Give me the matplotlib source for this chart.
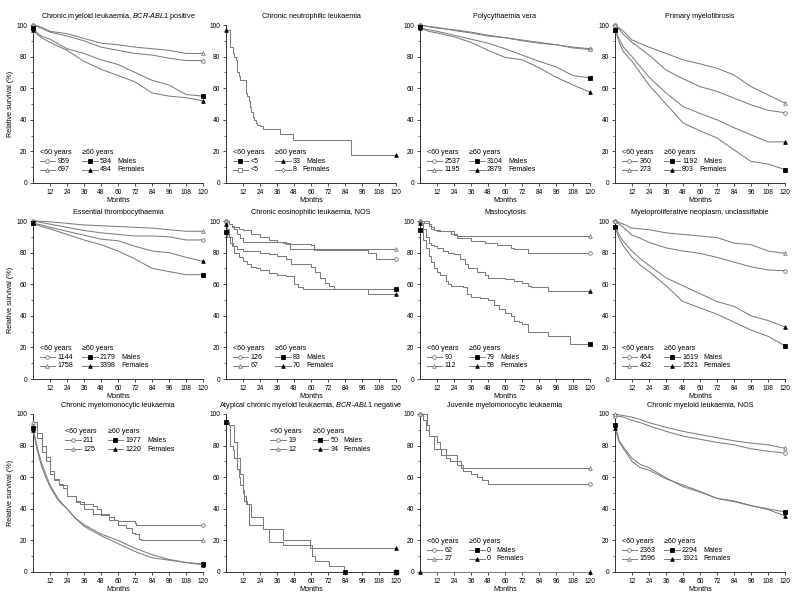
import matplotlib
matplotlib.use('Agg')
import matplotlib.pyplot as plt
from matplotlib.lines import Line2D

plt.rcParams['font.family'] = ['Liberation Sans', 'DejaVu Sans']
plt.rcParams['mathtext.fontset'] = 'custom'
plt.rcParams['mathtext.rm'] = 'Liberation Sans'
plt.rcParams['mathtext.it'] = 'Liberation Sans:italic'

# ---------------- data ----------------
GRID_A = [0, 3, 6, 12, 24, 36, 48, 60, 72, 84, 96, 108, 120]
GRID_B = [0, 3, 6, 12, 18, 24, 36, 48, 60, 72, 84, 96, 108, 120]

titles = [
    r"Chronic myeloid leukaemia, $\mathit{BCR}$-$\mathit{ABL1}$ positive",
    "Chronic neutrophilic leukaemia",
    "Polycythaemia vera",
    "Primary myelofibrosis",
    "Essential thrombocythaemia",
    "Chronic eosinophilic leukaemia, NOS",
    "Mastocytosis",
    "Myeloproliferative neoplasm, unclassifiable",
    "Chronic myelomonocytic leukaemia",
    r"Atypical chronic myeloid leukaemia, $\mathit{BCR}$-$\mathit{ABL1}$ negative",
    "Juvenile myelomonocytic leukaemia",
    "Chronic myeloid leukaemia, NOS",
]

# legend counts: (<60 males, <60 females, >=60 males, >=60 females)
counts = [
    ("959", "697", "534", "484"),
    ("<5", "<5", "33", "8"),
    ("2537", "1195", "3104", "2879"),
    ("360", "273", "1192", "803"),
    ("1144", "1758", "2179", "3398"),
    ("126", "67", "83", "70"),
    ("90", "112", "79", "58"),
    ("464", "432", "1619", "1521"),
    ("211", "125", "1977", "1220"),
    ("19", "12", "50", "34"),
    ("62", "27", "0", "0"),
    ("2363", "1596", "2294", "1921"),
]

# Panel 1: CML BCR-ABL1 positive (GRID_A)
p1_u60m = [100, 99, 98, 95.5, 93, 90, 86, 84, 82, 81, 79, 77.5, 77.5]
p1_u60f = [100, 99.5, 98.5, 96, 94.5, 91.5, 88.5, 87.5, 86, 85, 84, 82, 82]
p1_o60m = [98, 95, 93, 91, 85, 82, 78, 75, 70, 65, 62, 56, 55]
p1_o60f = [97, 94, 92, 89, 84, 77, 72, 68, 64, 57, 55, 54, 52]

# Panel 2: CNL (single step curve)
p2_t = [0, 1, 3, 5, 6, 7, 8, 9, 10, 13, 14, 15, 16, 17, 18, 19, 20, 21, 22, 24, 26, 38, 47, 88, 120]
p2_v = [97, 97, 86, 82, 80, 78, 70, 68, 65, 65, 57, 55, 52, 48, 45, 42, 40, 38, 37, 36, 34, 31, 27, 17.5, 17.5]

# Panel 3: PV (GRID_A)
p3_u60m = [100, 99.5, 99, 98, 97, 95.5, 93.5, 92, 90.5, 89, 87.5, 86, 85]
p3_u60f = [100, 99.5, 99, 98.5, 96.5, 95, 93, 92, 90, 88.5, 87.5, 85.5, 84.5]
p3_o60m = [98.5, 97.5, 97, 96, 93.5, 91, 88.5, 85, 81, 77, 73.5, 68, 66.5]
p3_o60f = [98, 97, 96, 95, 92.5, 89, 84, 79.5, 78, 73, 67, 62, 57.5]

# Panel 4: PMF (GRID_A)
p4_u60m = [100, 97, 94, 89, 81, 71.5, 66, 61, 58, 53.7, 49.5, 46, 44.5]
p4_u60f = [100, 98, 96, 90.5, 86, 82, 78, 75.4, 72.6, 68.4, 61, 55.8, 50.5]
p4_o60m = [97, 89, 83, 77, 62, 50, 38, 33, 28.5, 21, 13.7, 12, 8.5]
p4_o60f = [97, 91, 86, 80, 67, 57, 48.4, 44, 40, 35, 30.5, 26, 26]

# Panel 5: ET (GRID_A)
p5_u60m = [100, 99.5, 99, 98, 96, 94, 92.5, 91.5, 90.5, 90.5, 90, 88, 88]
p5_u60f = [100, 100, 99.8, 99.5, 98.5, 97.5, 97, 96.5, 96, 95.5, 94.5, 93.5, 93.5]
p5_o60m = [98.5, 97.5, 96.5, 95, 91.5, 88, 85, 81, 76, 70, 68, 66, 66]
p5_o60f = [99, 98, 97.5, 96, 93.5, 91, 88.5, 87.5, 84, 81, 80, 77, 74.5]

# Panel 6: CEL NOS (step curves)
p6_u60m_t = [0, 2, 4, 6, 9, 12, 18, 24, 30, 36, 42, 60, 62, 100, 106, 120]
p6_u60m_v = [100, 98, 97, 96, 95, 94, 92, 90, 88, 87, 85.5, 85, 81.5, 79.5, 76, 76]
p6_u60f_t = [0, 2, 4, 6, 8, 10, 12, 36, 40, 45, 120]
p6_u60f_v = [100, 98, 96, 95, 92, 89, 87, 87, 86, 82, 82]
p6_o60m_t = [0, 1, 3, 5, 8, 12, 24, 30, 36, 42, 46, 60, 63, 66, 70, 73, 76, 120]
p6_o60m_v = [93, 90, 86, 84, 82, 81, 80, 79, 78, 76, 73, 71, 68, 64, 61, 59, 57, 57]
p6_o60f_t = [0, 1, 2, 4, 6, 9, 12, 15, 18, 21, 24, 30, 36, 42, 48, 51, 54, 100, 120]
p6_o60f_v = [98, 95, 90, 84, 80, 77, 75, 73, 71, 70, 69, 67, 66, 65, 60, 58, 57, 54, 54]

# Panel 7: Mastocytosis (step curves)
p7_u60m_t = [0, 3, 6, 8, 10, 14, 24, 26, 36, 46, 54, 64, 66, 76, 120]
p7_u60m_v = [100, 99, 97, 95, 94, 93.5, 91, 89, 87.5, 86, 85, 83, 82.5, 80, 80]
p7_u60f_t = [0, 4, 6, 8, 10, 12, 20, 22, 26, 120]
p7_u60f_v = [100, 100, 98, 96, 94, 93.5, 93.5, 92, 90.5, 90.5]
p7_o60m_t = [0, 2, 4, 6, 8, 10, 12, 14, 18, 20, 22, 30, 33, 36, 42, 48, 52, 56, 60, 64, 66, 70, 72, 76, 86, 90, 96, 106, 120]
p7_o60m_v = [94, 88, 83, 78, 74, 70, 68, 66, 62, 60, 59, 58, 54, 52, 51, 50, 47, 44, 42, 40, 37, 36, 35, 30, 30, 27, 27, 22, 22]
p7_o60f_t = [0, 2, 4, 6, 8, 10, 12, 16, 20, 24, 28, 32, 34, 40, 46, 48, 60, 66, 72, 76, 78, 88, 90, 120]
p7_o60f_v = [99, 95, 90, 86, 85, 84, 83, 81, 80, 79, 76, 73, 70, 68, 66, 64, 63.5, 62, 61, 59, 58.5, 58.5, 55.5, 55.5]

# Panel 8: MPN-U (GRID_B)
p8_u60m = [100, 98, 96, 91, 89, 86.5, 83, 81, 79.5, 77, 74, 71, 69, 68.5]
p8_u60f = [100, 99, 98, 95.5, 95, 94.5, 92.5, 91.5, 90.5, 89.5, 86, 85, 81, 79.5]
p8_o60m = [96, 89, 84, 77, 72, 68, 59, 49, 45, 41, 36, 31, 27, 21]
p8_o60f = [97, 91, 87, 81, 76, 72, 64, 59, 54, 49, 46, 40, 37, 33]

# Panel 9: CMML
p9_u60m_t = [0, 3, 6, 9, 12, 15, 18, 21, 24, 30, 33, 36, 42, 45, 48, 54, 57, 60, 72, 73, 120]
p9_u60m_v = [92, 85, 76, 70, 62, 59, 56, 53, 48, 45, 43, 43, 42, 40, 37, 35, 33, 32, 31, 30, 30]
p9_u60f_t = [0, 3, 6, 9, 12, 15, 18, 24, 30, 36, 42, 48, 54, 60, 66, 70, 72, 75, 76, 120]
p9_u60f_v = [95, 88, 80, 73, 64, 58, 55, 48, 44, 40, 37, 36, 33, 30, 28, 25, 24, 21, 20.5, 20.5]
p9_t = [0, 3, 6, 9, 12, 18, 24, 30, 36, 48, 60, 72, 84, 96, 108, 120]
p9_o60m = [91, 79, 69, 62, 55, 46, 40, 34, 29, 23, 18, 13, 9, 7.5, 6, 5]
p9_o60f = [90, 77, 67, 60, 54, 45, 40, 34, 30, 24, 20, 15, 11, 8, 6, 4.5]

# Panel 10: aCML (step curves)
p10_o60m_t = [0, 2, 3, 5, 6, 8, 9, 10, 12, 13, 15, 16, 24, 26, 30, 40, 58, 61, 63, 72, 73, 83, 84]
p10_o60m_v = [95, 93, 80, 77, 72, 65, 60, 55, 52, 45, 43, 30, 30, 27, 19, 17, 17, 10, 7, 7, 4, 0, 0]
p10_o60f_t = [0, 2, 5, 6, 8, 10, 12, 13, 14, 17, 18, 24, 26, 38, 40, 58, 59, 120]
p10_o60f_v = [95, 93, 93, 82, 72, 62, 50, 48, 43, 43, 35, 35, 27, 27, 20, 20, 15.5, 15.5]
p10_end_t = [120]
p10_end_v = [0]

# Panel 11: JMML (step curves)
p11_u60m_t = [0, 2, 4, 6, 10, 12, 14, 18, 24, 26, 30, 36, 40, 44, 48, 120]
p11_u60m_v = [100, 96, 90, 86, 86, 82, 78, 74, 74, 68, 64, 62, 60, 58, 56, 56]
p11_u60f_t = [0, 4, 5, 6, 9, 10, 12, 15, 18, 21, 28, 29, 120]
p11_u60f_v = [100, 100, 93, 86, 86, 78, 78, 74, 72, 70, 70, 66, 66]
p11_o60_t = [0, 120]
p11_o60_v = [0, 0]

# Panel 12: CML NOS (GRID_B)
p12_u60m = [99, 98.5, 98, 96, 94.5, 92.5, 89, 86, 84, 82, 80.5, 78, 76.4, 75.3]
p12_u60f = [100, 99.5, 99, 98, 96.5, 94.5, 91.6, 89, 87, 85, 83, 81.6, 80.5, 78.3]
p12_o60m = [93, 83, 79, 72, 68, 66, 59.6, 54, 50.6, 46.6, 45, 42, 40, 38]
p12_o60f = [91, 82, 78, 70, 66, 64.5, 59, 55, 51, 46.6, 44.5, 42, 39.5, 35.5]

# series per panel: (t, v, kind, step)
panels = [
    [(GRID_A, p1_u60m, 'u60m', False), (GRID_A, p1_u60f, 'u60f', False),
     (GRID_A, p1_o60m, 'o60m', False), (GRID_A, p1_o60f, 'o60f', False)],
    [(p2_t, p2_v, 'o60f', True)],
    [(GRID_A, p3_u60m, 'u60m', False), (GRID_A, p3_u60f, 'u60f', False),
     (GRID_A, p3_o60m, 'o60m', False), (GRID_A, p3_o60f, 'o60f', False)],
    [(GRID_A, p4_u60m, 'u60m', False), (GRID_A, p4_u60f, 'u60f', False),
     (GRID_A, p4_o60m, 'o60m', False), (GRID_A, p4_o60f, 'o60f', False)],
    [(GRID_A, p5_u60m, 'u60m', False), (GRID_A, p5_u60f, 'u60f', False),
     (GRID_A, p5_o60m, 'o60m', False), (GRID_A, p5_o60f, 'o60f', False)],
    [(p6_u60m_t, p6_u60m_v, 'u60m', True), (p6_u60f_t, p6_u60f_v, 'u60f', True),
     (p6_o60m_t, p6_o60m_v, 'o60m', True), (p6_o60f_t, p6_o60f_v, 'o60f', True)],
    [(p7_u60m_t, p7_u60m_v, 'u60m', True), (p7_u60f_t, p7_u60f_v, 'u60f', True),
     (p7_o60m_t, p7_o60m_v, 'o60m', True), (p7_o60f_t, p7_o60f_v, 'o60f', True)],
    [(GRID_B, p8_u60m, 'u60m', False), (GRID_B, p8_u60f, 'u60f', False),
     (GRID_B, p8_o60m, 'o60m', False), (GRID_B, p8_o60f, 'o60f', False)],
    [(p9_u60m_t, p9_u60m_v, 'u60m', True), (p9_u60f_t, p9_u60f_v, 'u60f', True),
     (p9_t, p9_o60m, 'o60m', False), (p9_t, p9_o60f, 'o60f', False)],
    [(p10_o60m_t, p10_o60m_v, 'o60m', True), (p10_o60f_t, p10_o60f_v, 'o60f', True)],
    [(p11_u60m_t, p11_u60m_v, 'u60m', True), (p11_u60f_t, p11_u60f_v, 'u60f', True),
     (p11_o60_t, p11_o60_v, 'o60f', True)],
    [(GRID_B, p12_u60m, 'u60m', False), (GRID_B, p12_u60f, 'u60f', False),
     (GRID_B, p12_o60m, 'o60m', False), (GRID_B, p12_o60f, 'o60f', False)],
]

# ---------------- styling ----------------
LINE_COL = '#7d7d7d'
STYLES = {
    'u60m': dict(marker='o', mfc='white', mec='#777777'),
    'u60f': dict(marker='^', mfc='white', mec='#777777'),
    'o60m': dict(marker='s', mfc='black', mec='black'),
    'o60f': dict(marker='^', mfc='black', mec='black'),
    # special legend symbols used in the CNL panel
    'cnl_u60m': dict(marker='s', mfc='black', mec='black'),
    'cnl_o60m': dict(marker='^', mfc='black', mec='black'),
    'cnl_u60f': dict(marker='s', mfc='white', mec='#777777'),
    'cnl_o60f': dict(marker='D', mfc='white', mec='#777777'),
}
MS = 2.6
FS = 5.1       # legend text
FS_T = 5.2     # titles / axis labels
FS_K = 4.8     # tick labels

legend_pos = {8: (0.19, 0.89), 9: (0.26, 0.89)}

LEFTS = [33, 226, 420, 615]
TOPS = [25, 221, 414]
W, H = 170, 158

fig = plt.figure(figsize=(8, 6), dpi=100)


def add_legend(ax, nums, x0, y0, prefix=''):
    dx2 = 0.25
    dy = 0.056
    lw = 0.09
    ax.text(x0, y0, "<60 years", transform=ax.transAxes, fontsize=FS, va='center', ha='left')
    ax.text(x0 + dx2, y0, "\u226560 years", transform=ax.transAxes, fontsize=FS, va='center', ha='left')
    rows = [((prefix + 'u60m', nums[0]), (prefix + 'o60m', nums[2]), 'Males'),
            ((prefix + 'u60f', nums[1]), (prefix + 'o60f', nums[3]), 'Females')]
    for i, (c1, c2, lab) in enumerate(rows):
        y = y0 - (i + 1) * dy
        for (kind, num), xs in ((c1, x0), (c2, x0 + dx2)):
            st = STYLES[kind]
            ax.add_line(Line2D([xs, xs + lw], [y, y], transform=ax.transAxes, color=LINE_COL,
                               lw=0.7, clip_on=False))
            ms = MS * 0.8 if st['marker'] == 'D' else MS
            ax.add_line(Line2D([xs + lw / 2], [y], transform=ax.transAxes, marker=st['marker'],
                               mfc=st['mfc'], mec=st['mec'], ms=ms, mew=0.6, ls='none', clip_on=False))
            ax.text(xs + lw + 0.015, y, num, transform=ax.transAxes, fontsize=FS, va='center', ha='left')
        xl = x0 + dx2 + lw + 0.015 + 0.024 * len(c2[1]) + 0.03
        ax.text(xl, y, lab, transform=ax.transAxes, fontsize=FS, va='center', ha='left')


for idx in range(12):
    r, c = divmod(idx, 4)
    ax = fig.add_axes([LEFTS[c] / 800, 1 - (TOPS[r] + H) / 600, W / 800, H / 600])
    for t, v, kind, step in panels[idx]:
        st = STYLES[kind]
        ax.plot(t, v, color=LINE_COL, lw=0.75, drawstyle='steps-post' if step else 'default',
                marker=st['marker'], mfc=st['mfc'], mec=st['mec'], ms=MS, mew=0.6,
                markevery=[0, len(t) - 1], clip_on=False, zorder=3)
    if idx == 9:
        ax.plot(p10_end_t, p10_end_v, ls='none', marker='s', mfc='black', mec='black', ms=MS,
                clip_on=False, zorder=4)
    ax.set_xlim(0, 120)
    ax.set_ylim(0, 100)
    ax.set_xticks(range(12, 121, 12))
    ax.set_yticks(range(0, 101, 20))
    ax.set_yticks(range(10, 100, 20), minor=True)
    for s in ('top', 'right'):
        ax.spines[s].set_visible(False)
    for s in ('left', 'bottom'):
        ax.spines[s].set_linewidth(0.7)
        ax.spines[s].set_color('#333333')
    ax.tick_params(which='major', direction='out', length=2.5, width=0.6, labelsize=FS_K,
                   pad=1.5, color='#333333')
    ax.tick_params(which='minor', direction='out', length=1.5, width=0.5, color='#333333')
    ax.set_title(titles[idx], fontsize=FS_T, pad=5)
    ax.set_xlabel("Months", fontsize=FS_T, labelpad=1)
    if c == 0:
        ax.set_ylabel("Relative survival (%)", fontsize=FS_T, labelpad=1.5)
    x0, y0 = legend_pos.get(idx, (0.04, 0.195))
    add_legend(ax, counts[idx], x0, y0, prefix='cnl_' if idx == 1 else '')

fig.savefig('out.png', dpi=100)
